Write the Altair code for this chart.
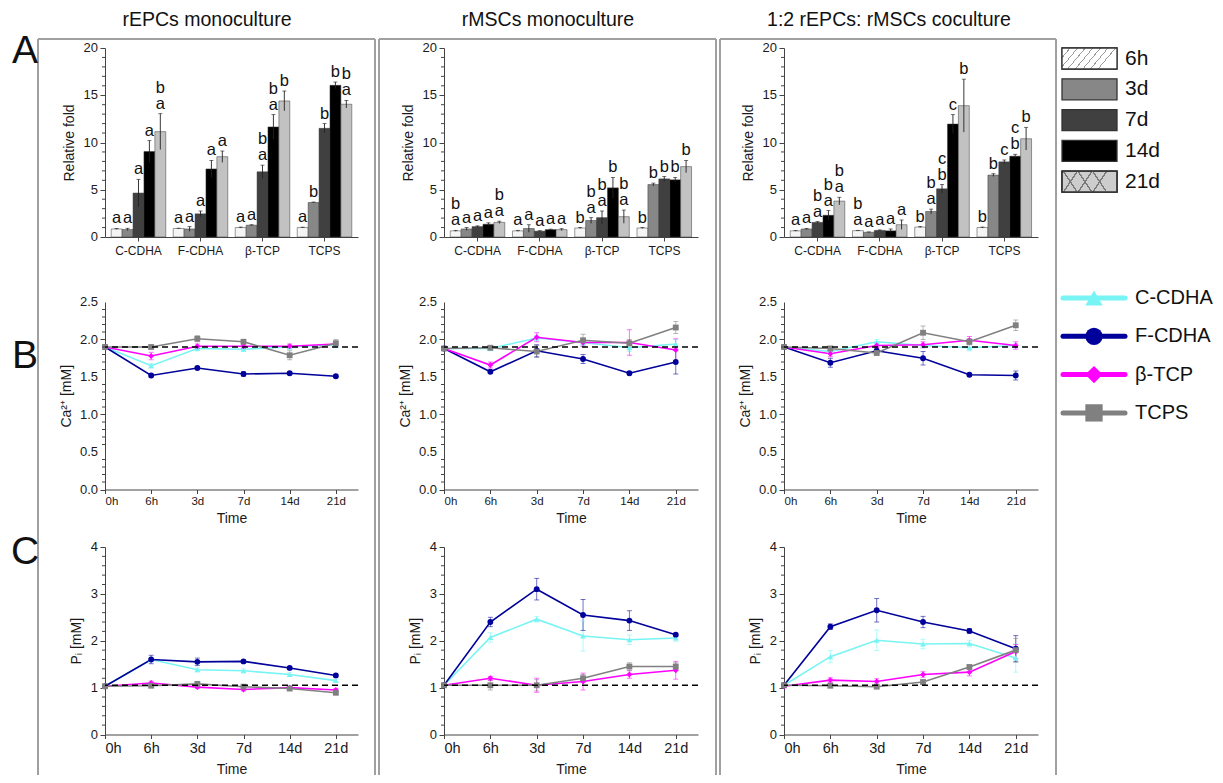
import json
import altair as alt
import pandas as pd

# ---------------- data ----------------
MATERIALS = ["C-CDHA", "F-CDHA", "β-TCP", "TCPS"]
BAR_TIMES = ["6h", "3d", "7d", "14d", "21d"]
LINE_TIMES = ["0h", "6h", "3d", "7d", "14d", "21d"]
COLUMN_TITLES = ["rEPCs monoculture", "rMSCs monoculture", "1:2 rEPCs: rMSCs coculture"]
ROW_LABELS = ["A", "B", "C"]
A_TICKS = [0, 5, 10, 15, 20]
CA_TICKS = [0.0, 0.5, 1.0, 1.5, 2.0, 2.5]
P_TICKS = [0, 1, 2, 3, 4]

# Panel A: relative fold (mean, error, significance letters written top->bottom)
A_EPC_MEAN = {"C-CDHA": [0.85, 0.8, 4.65, 9.05, 11.15], "F-CDHA": [0.9, 0.85, 2.45, 7.2, 8.5],
              "β-TCP": [1.0, 1.25, 6.9, 11.65, 14.4], "TCPS": [1.0, 3.65, 11.5, 16.05, 14.05]}
A_EPC_ERR = {"C-CDHA": [0.05, 0.12, 1.45, 1.15, 1.9], "F-CDHA": [0.03, 0.25, 0.3, 0.9, 0.6],
             "β-TCP": [0.05, 0.05, 0.7, 1.3, 1.05], "TCPS": [0.04, 0.05, 0.5, 0.35, 0.4]}
A_EPC_LET = {"C-CDHA": ["a", "a", "a", "a", "ba"], "F-CDHA": ["a", "a", "a", "a", "a"],
             "β-TCP": ["a", "a", "ba", "ba", "b"], "TCPS": ["a", "b", "b", "b", "ba"]}

A_MSC_MEAN = {"C-CDHA": [0.65, 0.85, 1.1, 1.35, 1.55], "F-CDHA": [0.65, 0.9, 0.62, 0.78, 0.78],
              "β-TCP": [0.95, 1.75, 2.05, 5.2, 2.15], "TCPS": [0.95, 5.55, 6.15, 6.05, 7.45]}
A_MSC_ERR = {"C-CDHA": [0.05, 0.15, 0.08, 0.15, 0.12], "F-CDHA": [0.05, 0.4, 0.05, 0.05, 0.1],
             "β-TCP": [0.05, 0.3, 0.7, 1.1, 0.7], "TCPS": [0.05, 0.15, 0.25, 0.25, 0.65]}
A_MSC_LET = {"C-CDHA": ["ba", "a", "a", "a", "ba"], "F-CDHA": ["a", "a", "a", "a", "a"],
             "β-TCP": ["b", "ba", "ba", "b", "ba"], "TCPS": ["b", "b", "b", "b", "b"]}

A_CO_MEAN = {"C-CDHA": [0.65, 0.85, 1.55, 2.3, 3.8], "F-CDHA": [0.67, 0.5, 0.7, 0.65, 1.3],
             "β-TCP": [1.05, 2.7, 5.1, 11.95, 13.9], "TCPS": [1.0, 6.55, 7.95, 8.55, 10.4]}
A_CO_ERR = {"C-CDHA": [0.04, 0.06, 0.08, 0.5, 0.4], "F-CDHA": [0.03, 0.04, 0.05, 0.2, 0.5],
            "β-TCP": [0.05, 0.25, 0.45, 1.0, 2.8], "TCPS": [0.05, 0.15, 0.2, 0.2, 1.2]}
A_CO_LET = {"C-CDHA": ["a", "a", "ba", "ba", "ba"], "F-CDHA": ["ba", "a", "a", "a", "a"],
            "β-TCP": ["b", "ba", "cb", "c", "b"], "TCPS": ["b", "b", "c", "cb", "b"]}

# Panel B: Ca2+ [mM]
CA_REF = 1.9
CA_EPC = {"C-CDHA": [1.9, 1.65, 1.88, 1.87, 1.9, 1.93], "F-CDHA": [1.9, 1.52, 1.62, 1.54, 1.55, 1.51],
          "β-TCP": [1.9, 1.78, 1.91, 1.91, 1.91, 1.94], "TCPS": [1.9, 1.9, 2.01, 1.97, 1.79, 1.95]}
CA_EPC_ERR = {"C-CDHA": [0.02, 0.03, 0.03, 0.03, 0.03, 0.04], "F-CDHA": [0.02, 0.02, 0.02, 0.03, 0.02, 0.02],
              "β-TCP": [0.02, 0.05, 0.03, 0.03, 0.03, 0.03], "TCPS": [0.02, 0.02, 0.04, 0.03, 0.06, 0.05]}
CA_MSC = {"C-CDHA": [1.88, 1.88, 2.02, 1.96, 1.89, 1.94], "F-CDHA": [1.88, 1.57, 1.85, 1.74, 1.55, 1.7],
          "β-TCP": [1.88, 1.66, 2.03, 1.96, 1.96, 1.86], "TCPS": [1.88, 1.89, 1.84, 1.99, 1.95, 2.16]}
CA_MSC_ERR = {"C-CDHA": [0.02, 0.03, 0.03, 0.04, 0.05, 0.06], "F-CDHA": [0.02, 0.02, 0.08, 0.06, 0.02, 0.16],
              "β-TCP": [0.02, 0.04, 0.06, 0.05, 0.17, 0.15], "TCPS": [0.02, 0.03, 0.08, 0.08, 0.05, 0.08]}
CA_CO = {"C-CDHA": [1.9, 1.84, 1.97, 1.92, 1.89, 1.92], "F-CDHA": [1.9, 1.69, 1.85, 1.75, 1.53, 1.52],
         "β-TCP": [1.9, 1.81, 1.92, 1.93, 1.99, 1.92], "TCPS": [1.9, 1.88, 1.82, 2.09, 1.97, 2.19]}
CA_CO_ERR = {"C-CDHA": [0.02, 0.03, 0.03, 0.03, 0.04, 0.03], "F-CDHA": [0.02, 0.06, 0.04, 0.09, 0.02, 0.06],
             "β-TCP": [0.02, 0.04, 0.03, 0.04, 0.05, 0.05], "TCPS": [0.02, 0.03, 0.03, 0.09, 0.04, 0.07]}

# Panel C: Pi [mM]
P_REF = 1.05
P_EPC = {"C-CDHA": [1.03, 1.6, 1.38, 1.36, 1.28, 1.15], "F-CDHA": [1.03, 1.6, 1.55, 1.56, 1.42, 1.26],
         "β-TCP": [1.03, 1.1, 1.01, 0.96, 1.0, 0.95], "TCPS": [1.03, 1.04, 1.08, 1.02, 0.98, 0.89]}
P_EPC_ERR = {"C-CDHA": [0.02, 0.05, 0.04, 0.04, 0.04, 0.03], "F-CDHA": [0.02, 0.09, 0.08, 0.03, 0.03, 0.03],
             "β-TCP": [0.02, 0.04, 0.03, 0.03, 0.03, 0.03], "TCPS": [0.02, 0.03, 0.03, 0.03, 0.03, 0.03]}
P_MSC = {"C-CDHA": [1.05, 2.07, 2.46, 2.1, 2.02, 2.06], "F-CDHA": [1.05, 2.4, 3.1, 2.55, 2.43, 2.13],
         "β-TCP": [1.05, 1.2, 1.05, 1.13, 1.28, 1.37], "TCPS": [1.05, 1.05, 1.05, 1.2, 1.45, 1.45]}
P_MSC_ERR = {"C-CDHA": [0.03, 0.1, 0.06, 0.32, 0.1, 0.07], "F-CDHA": [0.03, 0.1, 0.23, 0.33, 0.21, 0.03],
             "β-TCP": [0.03, 0.04, 0.15, 0.18, 0.08, 0.19], "TCPS": [0.03, 0.1, 0.12, 0.08, 0.08, 0.08]}
P_CO = {"C-CDHA": [1.05, 1.66, 2.01, 1.93, 1.94, 1.63], "F-CDHA": [1.05, 2.3, 2.65, 2.4, 2.21, 1.83],
        "β-TCP": [1.03, 1.16, 1.13, 1.28, 1.33, 1.77], "TCPS": [1.05, 1.04, 1.02, 1.12, 1.44, 1.8]}
P_CO_ERR = {"C-CDHA": [0.03, 0.13, 0.22, 0.1, 0.07, 0.3], "F-CDHA": [0.03, 0.06, 0.25, 0.12, 0.05, 0.28],
            "β-TCP": [0.03, 0.05, 0.06, 0.06, 0.08, 0.15], "TCPS": [0.03, 0.03, 0.03, 0.04, 0.04, 0.25]}

# ---------------- styling / layout ----------------
FONT = "Liberation Sans"
BAR_FILLS = ["#f4f4f4", "#878787", "#404040", "#000000", "#c2c2c2"]
SERIES_COLORS = ["#78f4f4", "#00009a", "#ff00ff", "#808080"]
SERIES_SHAPES = ["triangle-up", "circle", "diamond", "square"]
FRAME_COLOR = "#a0a0a0"
TEXT_COLOR = "#1a1a1a"

COL_W = [253, 254, 254]
H_A, H_B, H_C = 189, 191.5, 183.5          # grid cell heights (row spacing 61)
RANGE_B = [191.5, 4]                       # visible axis inside the B cells
RANGE_C = [183.5, -4]                      # visible axis inside the C cells
FRAME_X = [(-67, 270), (-65, 272), (-64, 272)]
FRAME_TOP, FRAME_BOTTOM = -9, 727
TITLE_X = [102, 104, 105]
LEG_X = -62                                # legend drawn left of its narrow grid cell

fill_scale = alt.Scale(domain=BAR_TIMES, range=BAR_FILLS)
color_scale = alt.Scale(domain=MATERIALS, range=SERIES_COLORS)
shape_scale = alt.Scale(domain=MATERIALS, range=SERIES_SHAPES)
ONE = pd.DataFrame({"k": [0]})


def deco_text(text, x, y, size, baseline="middle", align="center"):
    return alt.Chart(ONE).mark_text(text=text, font=FONT, fontSize=size, color="#111",
                                    baseline=baseline, align=align).encode(
        x=alt.value(x), y=alt.value(y))


def deco_rule(x0, x1, y0, y1):
    return alt.Chart(ONE).mark_rule(color=FRAME_COLOR, strokeWidth=2).encode(
        x=alt.value(x0), x2=alt.value(x1), y=alt.value(y0), y2=alt.value(y1))


def minor_ticks(values):
    return alt.Chart(pd.DataFrame({"v": values})).mark_rule(color="#444", strokeWidth=1).encode(
        y=alt.Y("v:Q"), x=alt.value(-3), x2=alt.value(0))


def tick_labels(values, fmt):
    df = pd.DataFrame({"v": values, "lab": [format(v, fmt) for v in values]})
    return alt.Chart(df).mark_text(align="right", baseline="middle", font=FONT, fontSize=13,
                                   color=TEXT_COLOR).encode(
        y=alt.Y("v:Q"), x=alt.value(-7), text="lab:N")


def panel_a(ci, mean, err, let):
    rows = []
    for m in MATERIALS:
        for j, t in enumerate(BAR_TIMES):
            L = let[m][j]
            rows.append(dict(material=m, time=t, mean=mean[m][j], lo=mean[m][j] - err[m][j],
                             hi=mean[m][j] + err[m][j], low_letter=L[-1],
                             up_letter=L[0] if len(L) > 1 else ""))
    df = pd.DataFrame(rows)
    x = alt.X("material:N", sort=MATERIALS,
              scale=alt.Scale(domain=MATERIALS, paddingInner=0.12, paddingOuter=0.1),
              axis=alt.Axis(title=None, labelAngle=0, tickSize=4, labelPadding=4, labelFontSize=12))
    xo = alt.XOffset("time:N", sort=BAR_TIMES,
                     scale=alt.Scale(domain=BAR_TIMES, paddingInner=0, paddingOuter=0))
    yscale = alt.Scale(domain=[0, 20], nice=False)
    base = alt.Chart(df).encode(x=x, xOffset=xo)
    bars = base.mark_bar(stroke="#3a3a3a", strokeWidth=0.5).encode(
        y=alt.Y("mean:Q", scale=yscale,
                axis=alt.Axis(values=A_TICKS, labels=False, title="Relative fold", titleX=-36,
                              titleY=H_A / 2, titleBaseline="middle", tickSize=5)),
        fill=alt.Fill("time:N", scale=fill_scale, legend=None))
    errs = base.mark_rule(color="#222", strokeWidth=0.9).encode(
        y=alt.Y("lo:Q", title="Relative fold"), y2="hi:Q")
    caps = base.mark_tick(color="#222", thickness=0.9, size=4, orient="horizontal").encode(
        y=alt.Y("hi:Q", title="Relative fold"))
    low = base.mark_text(baseline="bottom", dy=-2, fontSize=16.5, font=FONT, color="#111").encode(
        y=alt.Y("hi:Q", title="Relative fold"), text="low_letter:N")
    up = base.transform_filter("datum.up_letter != ''").mark_text(
        baseline="bottom", dy=-18, fontSize=16.5, font=FONT, color="#111").encode(
        y=alt.Y("hi:Q", title="Relative fold"), text="up_letter:N")
    minor = minor_ticks([v for v in range(1, 20) if v % 5 != 0])
    labels = tick_labels(A_TICKS, "d")
    fx0, fx1 = FRAME_X[ci]
    frame = [deco_rule(fx0, fx0, FRAME_TOP, FRAME_BOTTOM), deco_rule(fx1, fx1, FRAME_TOP, FRAME_BOTTOM),
             deco_rule(fx0, fx1, FRAME_TOP, FRAME_TOP)]
    title = deco_text(COLUMN_TITLES[ci], TITLE_X[ci], -28, 19.5)
    layers = frame + [bars, errs, caps, low, up, minor, labels, title]
    if ci == 0:
        anchor = alt.Chart(ONE).mark_rect(opacity=0).encode(
            x=alt.value(-97), x2=alt.value(-96), y=alt.value(-40), y2=alt.value(-39))
        layers += [anchor, deco_text(ROW_LABELS[0], -80, 15, 39, baseline="alphabetic")]
    return alt.layer(*layers).properties(width=COL_W[ci], height=H_A)


LABEL_EXPR = json.dumps(LINE_TIMES) + "[datum.value]"


def panel_line(ci, vals, errs, ref, ymax, yvals, fmt, ytitle, minor_vals, title_x,
               label_pad, label_size, time_y, row_label, row_y, height, yrange):
    rows = []
    for m in MATERIALS:
        for j, t in enumerate(LINE_TIMES):
            rows.append(dict(material=m, t=j, v=vals[m][j], lo=vals[m][j] - errs[m][j],
                             hi=vals[m][j] + errs[m][j]))
    df = pd.DataFrame(rows)
    x = alt.X("t:Q", scale=alt.Scale(domain=[0, 5.48], nice=False, zero=False),
              axis=alt.Axis(values=list(range(len(LINE_TIMES))), labelExpr=LABEL_EXPR, title="Time",
                            titleY=time_y, titleBaseline="middle", labelPadding=label_pad,
                            tickSize=4, labelFontSize=label_size))
    yscale = alt.Scale(domain=[0, ymax], nice=False, range=yrange)
    y = alt.Y("v:Q", scale=yscale,
              axis=alt.Axis(values=yvals, labels=False, title=ytitle, titleX=title_x,
                            titleY=(yrange[0] + yrange[1]) / 2, titleBaseline="middle", tickSize=5))
    color = alt.Color("material:N", scale=color_scale, legend=None)
    base = alt.Chart(df).encode(x=x, color=color)
    err_rule = base.mark_rule(strokeWidth=1, opacity=0.55).encode(
        y=alt.Y("lo:Q", title=ytitle), y2="hi:Q")
    cap_hi = base.mark_tick(orient="horizontal", size=5, thickness=1, opacity=0.55).encode(
        y=alt.Y("hi:Q", title=ytitle))
    cap_lo = base.mark_tick(orient="horizontal", size=5, thickness=1, opacity=0.55).encode(
        y=alt.Y("lo:Q", title=ytitle))
    line = base.mark_line(strokeWidth=1.6).encode(y=y)
    pts = base.mark_point(filled=True, size=34, opacity=1).encode(
        y=alt.Y("v:Q", title=ytitle), shape=alt.Shape("material:N", scale=shape_scale, legend=None))
    dash = alt.Chart(ONE).mark_rule(color="black", strokeDash=[6, 4], strokeWidth=1.5).encode(
        y=alt.datum(ref))
    minor = minor_ticks(minor_vals)
    labels = tick_labels(yvals, fmt)
    layers = [line, err_rule, cap_hi, cap_lo, pts, dash, minor, labels]
    if ci == 0:
        layers.append(deco_text(row_label, -80, row_y, 39, baseline="alphabetic"))
    return alt.layer(*layers).properties(width=COL_W[ci], height=height)


# ---------------- legends ----------------
def stripes(bg, fg, n, frac, x1, y1, x2, y2):
    stops = []
    for i in range(n):
        a, b, c = i / n, (i + frac) / n, (i + 1) / n
        stops += [{"color": fg, "offset": a}, {"color": fg, "offset": b},
                  {"color": bg, "offset": b}, {"color": bg, "offset": c}]
    return {"gradient": "linear", "stops": stops, "x1": x1, "y1": y1, "x2": x2, "y2": y2}


leg_df = pd.DataFrame({"time": BAR_TIMES})
ly = alt.Y("time:N", sort=BAR_TIMES, axis=None,
           scale=alt.Scale(domain=BAR_TIMES, paddingInner=0.318, paddingOuter=0.727, align=0))
sx0, sx1 = alt.value(LEG_X), alt.value(LEG_X + 55)
sw = alt.Chart(leg_df).mark_rect(stroke="#333", strokeWidth=1.3).encode(
    y=ly, x=sx0, x2=sx1, fill=alt.Fill("time:N", scale=fill_scale, legend=None))
hatch6 = alt.Chart(leg_df).transform_filter(alt.datum.time == BAR_TIMES[0]).mark_rect(
    fill=stripes("#ffffff", "#9a9a9a", 8, 0.14, 0, 0, 1, 0.32), stroke="#333", strokeWidth=1.3).encode(
    y=ly, x=sx0, x2=sx1)
hatch21a = alt.Chart(leg_df).transform_filter(alt.datum.time == BAR_TIMES[4]).mark_rect(
    fill=stripes("#cdcdcd", "#7a7a7a", 4, 0.1, 0, 0, 1, 0.255), stroke="#333", strokeWidth=1.3).encode(
    y=ly, x=sx0, x2=sx1)
hatch21b = alt.Chart(leg_df).transform_filter(alt.datum.time == BAR_TIMES[4]).mark_rect(
    fill=stripes("rgba(0,0,0,0)", "#7a7a7a", 4, 0.1, 0, 1, 1, 0.745), stroke="#333", strokeWidth=1.3).encode(
    y=ly, x=sx0, x2=sx1)
bar_txt = alt.Chart(leg_df).mark_text(align="left", baseline="middle", fontSize=21, font=FONT,
                                      color="#111").encode(y=ly, x=alt.value(LEG_X + 63), text="time:N")
bar_legend = alt.layer(sw, hatch6, hatch21a, hatch21b, bar_txt).properties(width=4, height=H_A)

ll_df = pd.DataFrame({"material": MATERIALS})
ly2 = alt.Y("material:N", sort=MATERIALS, axis=None,
            scale=alt.Scale(domain=MATERIALS, type="point", padding=1.629, align=0))
lcolor = alt.Color("material:N", scale=color_scale, legend=None)
l_rule = alt.Chart(ll_df).mark_rule(strokeWidth=5, strokeCap="round").encode(
    y=ly2, x=alt.value(LEG_X + 1), x2=alt.value(LEG_X + 63), color=lcolor)
l_pts = alt.Chart(ll_df).mark_point(filled=True, size=300, opacity=1).encode(
    y=ly2, x=alt.value(LEG_X + 32), color=lcolor,
    shape=alt.Shape("material:N", scale=shape_scale, legend=None))
l_txt = alt.Chart(ll_df).mark_text(align="left", baseline="middle", fontSize=20, font=FONT,
                                   color="#111").encode(y=ly2, x=alt.value(LEG_X + 73), text="material:N")
line_legend = alt.layer(l_rule, l_pts, l_txt).properties(width=4, height=H_B)

# ---------------- assemble ----------------
A_SETS = [(A_EPC_MEAN, A_EPC_ERR, A_EPC_LET), (A_MSC_MEAN, A_MSC_ERR, A_MSC_LET), (A_CO_MEAN, A_CO_ERR, A_CO_LET)]
B_SETS = [(CA_EPC, CA_EPC_ERR), (CA_MSC, CA_MSC_ERR), (CA_CO, CA_CO_ERR)]
C_SETS = [(P_EPC, P_EPC_ERR), (P_MSC, P_MSC_ERR), (P_CO, P_CO_ERR)]

ca_minor = [round(i * 0.1, 1) for i in range(1, 25) if i % 5 != 0]
p_minor = [round(i * 0.2, 1) for i in range(1, 20) if i % 5 != 0]

row_a = [panel_a(ci, *A_SETS[ci]) for ci in range(3)] + [bar_legend]
row_b = [panel_line(ci, *B_SETS[ci], CA_REF, 2.5, CA_TICKS, ".1f",
                    "Ca²⁺ [mM]", ca_minor, -39, 2, 11.5, 28.5, ROW_LABELS[1], 70, H_B, RANGE_B)
         for ci in range(3)] + [line_legend]
row_c = [panel_line(ci, *C_SETS[ci], P_REF, 4, P_TICKS, "d",
                    "Pᵢ [mM]", p_minor, -29, 3, 14.5, 35, ROW_LABELS[2], 12.5, H_C, RANGE_C)
         for ci in range(3)]

chart = alt.concat(*(row_a + row_b + row_c), columns=4, spacing={"row": 61, "column": 86},
                   bounds="flush", align="each").properties(
    padding=0, background="white"
).configure_view(stroke=None).configure_axis(
    labelFont=FONT, titleFont=FONT, labelFontSize=13, titleFontSize=14, titleFontWeight="normal",
    labelColor=TEXT_COLOR, titleColor=TEXT_COLOR, domainColor="#444", tickColor="#444", grid=False,
    labelOverlap=False,
)

chart.save("out.html", embed_options={"renderer": "svg", "actions": False})
